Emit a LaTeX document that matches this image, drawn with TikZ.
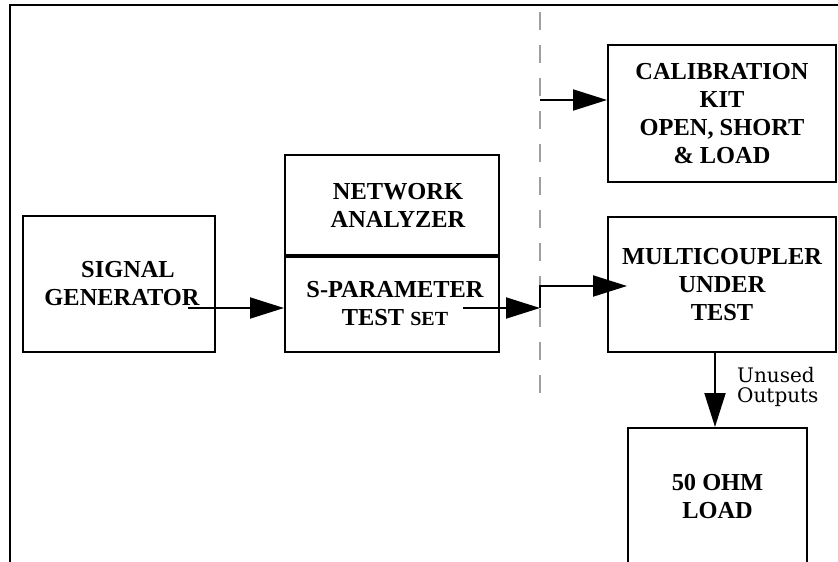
\documentclass[tikz,border=0pt]{standalone}
\usepackage{fontspec}
\setmainfont{Liberation Serif}
\newfontfamily\labelfont{DejaVu Serif}
\usetikzlibrary{arrows.meta}
\begin{document}
\begin{tikzpicture}[x=1pt,y=-1pt,
  box/.style={draw, line width=2pt, inner sep=0pt, align=center,
    font=\fontsize{24.4}{28}\selectfont\bfseries},
  flow/.style={line width=2pt, -{Triangle[length=34pt,width=21pt]}},
  divider/.style={draw=gray!75, line width=2pt, dash pattern=on 18pt off 15pt},
  frame/.style={line width=1.6pt},
]
\useasboundingbox (0,0) rectangle (838,562);
\clip (0,0) rectangle (838,562);
% outer frame (cropped)
\coordinate (fbl) at (10,565);
\coordinate (ftl) at (10,5);
\coordinate (ftr) at (840,5);
\draw[frame] (fbl) -- (ftl) -- (ftr);

% boxes
\node[box, minimum width=192pt, minimum height=136pt] (sg) at (119,284)
  {\hspace*{18pt}SIGNAL\\\hspace*{6pt}GENERATOR};
\node[box, minimum width=214pt, minimum height=100pt] (na) at (392,205)
  {\hspace*{12pt}NETWORK\\\hspace*{12pt}ANALYZER};
\node[box, minimum width=214pt, minimum height=97pt] (sp) at (392,303.5)
  {\fontsize{24.4}{24}\selectfont \hspace*{6pt}S-PARAMETER\\\hspace*{6pt}TEST {\fontsize{20}{24}\selectfont SET}};
\draw[line width=4pt] (na.south west) -- (na.south east);
\node[box, minimum width=228pt, minimum height=137pt] (cal) at (722,113.5)
  {CALIBRATION\\KIT\\OPEN, SHORT\\\& LOAD};
\node[box, minimum width=228pt, minimum height=135pt] (mc) at (722,284.5)
  {\fontsize{24.4}{26}\selectfont MULTICOUPLER\\UNDER\\TEST};
\node[box, minimum width=179pt, minimum height=136pt] (load) at (717.5,496) {50 OHM\\LOAD};

% dashed divider
\coordinate (dtop) at (540,12);
\coordinate (dbot) at (540,407);
\draw[divider] (dtop) -- (dbot);

% connectors
\coordinate (sgout) at (188,308);
\draw[flow] (sgout) -- (sgout -| sp.west);
\coordinate (spout) at (463,308);
\draw[flow] (spout) -- (spout -| dtop);
\coordinate (calin) at (540,100);
\draw[flow] (calin) -- (calin -| cal.west);
\coordinate (mcfrom) at (540,308);
\coordinate (mcbend) at (540,286);
\coordinate (mcin) at (627,286);
\draw[flow] (mcfrom) -- (mcbend) -- (mcin);
\coordinate (mcout) at (715,352);
\draw[flow] (mcout) -- (mcout |- load.north);

\node[font=\labelfont\fontsize{20}{20}\selectfont, align=left, anchor=west, inner sep=0pt]
  (unused) at (737,387) {Unused\\Outputs};
\end{tikzpicture}
\end{document}
